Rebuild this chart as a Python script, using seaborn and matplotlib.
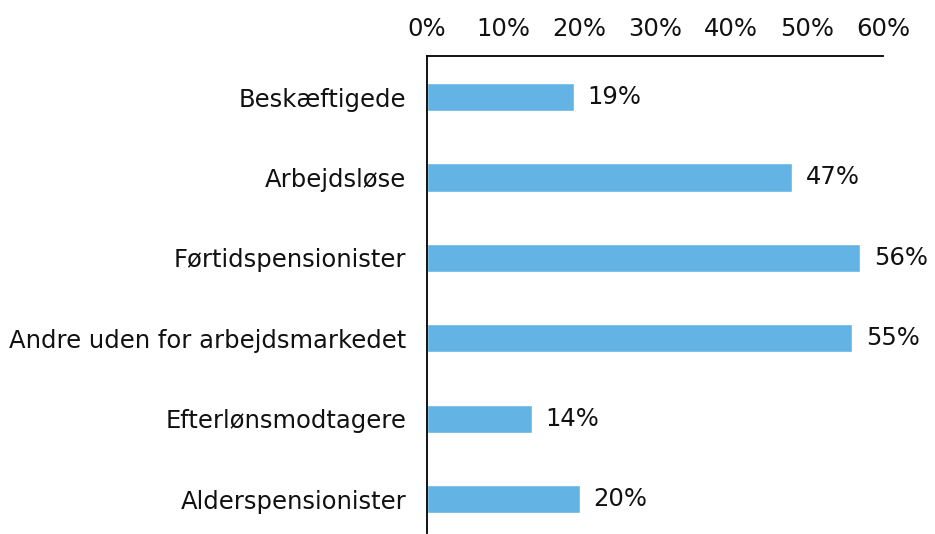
import matplotlib
matplotlib.use("Agg")
import matplotlib.pyplot as plt
import pandas as pd
import seaborn as sns
from matplotlib.ticker import FuncFormatter

categories = [
    "Beskæftigede",
    "Arbejdsløse",
    "Førtidspensionister",
    "Andre uden for arbejdsmarkedet",
    "Efterlønsmodtagere",
    "Alderspensionister",
]
# bar lengths (percent)
shares = [19.3, 48.0, 57.0, 55.9, 13.8, 20.1]
# labels printed next to the bars
share_labels = ["19%", "47%", "56%", "55%", "14%", "20%"]
x_ticks = [0, 10, 20, 30, 40, 50, 60]

df = pd.DataFrame({"group": categories, "share": shares})

sns.set_style("white")
plt.rcParams["font.family"] = ["DejaVu Sans"]

fig = plt.figure(figsize=(9.35, 5.34), dpi=100)
ax = fig.add_axes([0.4567, 0.002, 0.4877, 0.893])

sns.barplot(
    data=df,
    x="share",
    y="group",
    color="#63B4E4",
    width=0.35,
    saturation=1,
    ax=ax,
)

ax.bar_label(ax.containers[0], labels=share_labels, padding=10, fontsize=17.5, color="#111111")

ax.set_xlim(0, 60)
ax.set_ylim(5.42, -0.51)
ax.set_xticks(x_ticks)
ax.xaxis.set_major_formatter(FuncFormatter(lambda v, _: f"{v:.0f}%"))
ax.xaxis.tick_top()
ax.tick_params(axis="both", length=0, labelsize=17.5, colors="#111111")
ax.tick_params(axis="x", pad=11)
ax.tick_params(axis="y", pad=15)
ax.set_xlabel("")
ax.set_ylabel("")

for side in ["right", "bottom"]:
    ax.spines[side].set_visible(False)
for side in ["left", "top"]:
    ax.spines[side].set_color("black")
    ax.spines[side].set_linewidth(1.3)

fig.savefig("out.png", dpi=100)
